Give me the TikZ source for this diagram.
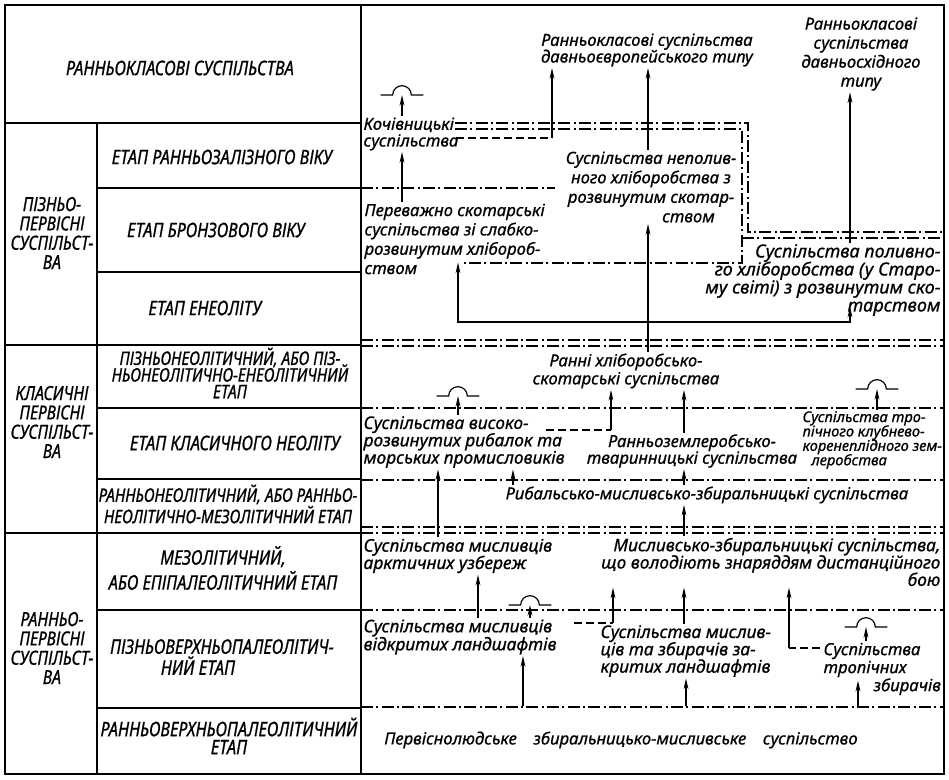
\documentclass[tikz,border=0pt]{standalone}
\usepackage{fontspec}
\setmainfont{Noto Sans}[FakeBold=0.8]
\newfontfamily\capfont{Noto Sans}[FakeStretch=0.82, FakeBold=0.8]
\usetikzlibrary{arrows.meta}
\lineskiplimit=-20pt

\begin{document}
\begin{tikzpicture}[x=0.75pt,y=-0.75pt,
	every node/.append style={execute at begin node={\lineskiplimit=-20pt}},
	stage/.style={font=\capfont\itshape\fontsize{15}{#1}\selectfont, align=center, inner sep=1pt},
	stage/.default=16,
	grp/.style={font=\capfont\itshape\fontsize{14.5}{14.5}\selectfont, align=center, inner sep=1pt},
	soc/.style={font=\itshape\fontsize{12.5}{#1}\selectfont, inner sep=1pt},
	soc/.default=14.5,
	socb/.style={font=\itshape\fontsize{13}{#1}\selectfont, inner sep=1pt},
	socb/.default=14.5,
	bnd/.style={line width=0.8pt, dash pattern=on 9pt off 2.5pt on 1.5pt off 2.5pt},
	arr/.style={line width=0.9pt, -{Stealth[length=8pt,width=3.6pt]}},
	dsh/.style={line width=0.9pt, dash pattern=on 6pt off 3pt}]
	\useasboundingbox (0,0) rectangle (949,779);
	\draw[line width=2.2pt] (5,5) rectangle (944,774);
	\draw[line width=1.8pt] (361,5) -- (361,774) (97,123) -- (97,774);
	\foreach \y in {123,345,533}
		\draw[line width=1.8pt] (5,\y) -- (361,\y);
	\foreach \y in {188,272,408,479,610,708}
		\draw[line width=1.1pt] (97,\y) -- (361,\y);
	\node[stage] (rks) at (180,68) {РАННЬОКЛАСОВІ СУСПІЛЬСТВА};
	\node[grp] (gLate) at (52,233) {ПІЗНЬО-\\ПЕРВІСНІ\\СУСПІЛЬСТ-\\ВА};
	\node[grp] (gClass) at (52,422) {КЛАСИЧНІ\\ПЕРВІСНІ\\СУСПІЛЬСТ-\\ВА};
	\node[grp] (gEarly) at (52,648) {РАННЬО-\\ПЕРВІСНІ\\СУСПІЛЬСТ-\\ВА};
	\node[stage] (s1) at (222,157) {ЕТАП РАННЬОЗАЛІЗНОГО ВІКУ};
	\node[stage] (s2) at (216,230) {ЕТАП БРОНЗОВОГО ВІКУ};
	\node[stage] (s3) at (205,308) {ЕТАП ЕНЕОЛІТУ};
	\node[stage, font=\capfont\itshape\fontsize{14}{12.5}\selectfont] (s4) at (230,373) {ПІЗНЬОНЕОЛІТИЧНИЙ, АБО ПІЗ-\\НЬОНЕОЛІТИЧНО-ЕНЕОЛІТИЧНИЙ\\ЕТАП};
	\node[stage] (s5) at (235,443) {ЕТАП КЛАСИЧНОГО НЕОЛІТУ};
	\node[stage, font=\capfont\itshape\fontsize{14}{16}\selectfont] (s6) at (228,504) {РАННЬОНЕОЛІТИЧНИЙ, АБО РАННЬО-\\НЕОЛІТИЧНО-МЕЗОЛІТИЧНИЙ ЕТАП};
	\node[stage=18.75] (s7) at (223,568) {МЕЗОЛІТИЧНИЙ,\\АБО ЕПІПАЛЕОЛІТИЧНИЙ ЕТАП};
	\node[stage=15.75] (s8) at (222,657) {ПІЗНЬОВЕРХНЬОПАЛЕОЛІТИЧ-\\НИЙ ЕТАП\hspace*{36pt}};
	\node[stage=13.5] (s9) at (229,736) {РАННЬОВЕРХНЬОПАЛЕОЛІТИЧНИЙ\\ЕТАП};
	\draw[bnd] (455,123) -- (748,123) -- (748,232) -- (944,232);
	\draw[bnd] (455,129) -- (742,129) -- (742,263) -- (463,263);
	\draw[bnd] (742,238) -- (944,238);
	\draw[bnd] (361,188) -- (555,188);
	\foreach \y in {340,346,408,480,527,533,610,707}
		\draw[bnd] (361,\y) -- (944,\y);
	\node[soc=12.5, align=center] (earlyEur) at (647,50) {Ранньокласові суспільства\\давньоєвропейського типу};
	\node[soc=14.25, align=center] (earlyEast) at (861,54) {Ранньокласові\\суспільства\\давньосхідного\\типу};
	\node[soc=12.5, align=left, anchor=west] (nomad) at (362,134) {Кочівницькі\\суспільства};
	\node[soc=14.5, align=left, anchor=west] (pastor) at (363,239) {Переважно скотарські\\суспільства зі слабко-\\розвинутим хлібороб-\\ством};
	\node[soc=14.6, align=center] (dryfarm) at (651,187) {Суспільства неполив-\\ного хліборобства з\\розвинутим скотар-\\\hspace*{4.5em}ством};
	\node[soc=13.5, align=center] (farmpast) at (626,371) {Ранні хліборобсько-\\скотарські суспільства};
	\node[align=right, anchor=east, inner sep=1pt, font=\itshape\fontsize{13.5}{13.5}\selectfont] (irrig) at (942,280) {Суспільства поливно-\\го хліборобства (у Старо-\\му світі) з розвинутим ско-\\тарством};
	\node[socb=13, align=left, anchor=west] (fisher) at (362,442) {Суспільства високо-\\розвинутих рибалок та\\морських промисловиків};
	\node[soc=12.5, align=center] (earlyagr) at (692,451) {Ранньоземлеробсько-\\тваринницькі суспільства};
	\node[align=left, anchor=west, inner sep=1pt, font=\itshape\fontsize{11}{10.8}\selectfont] (tuber) at (801,440) {Суспільства тро-\\пічного клубнево-\\коренеплідного зем-\\\hspace*{0.6em}леробства};
	\node[soc] (fishhunt) at (707,495) {Рибальсько-мисливсько-збиральницькі суспільства};
	\node[socb=13, align=left, anchor=west] (arctic) at (362,556) {Суспільства мисливців\\арктичних узбереж};
	\node[socb=13, align=right, anchor=east] (ranged) at (942,562) {Мисливсько-збиральницькі суспільства,\\що володіють знаряддям дистанційного\\бою};
	\node[socb=13, align=left, anchor=west] (closed) at (599,651) {Суспільства мислив-\\ців та збирачів за-\\критих ландшафтів};
	\node[socb=13.5, align=left, anchor=west] (open) at (362,637) {Суспільства мисливців\\відкритих ландшафтів};
	\node[soc=13.5, align=left, anchor=west] (tropic) at (822,669) {Суспільства\\тропічних\\\hspace*{3em}збирачів};
	\node[soc, minimum height=50pt] (primal) at (621,740) {Первіснолюдське\quad збиральницько-мисливське\quad суспільство};
	\coordinate (t1) at (402,95);
	\coordinate (t2) at (458,396);
	\coordinate (t3) at (877,389);
	\coordinate (t4) at (530,605);
	\coordinate (t5) at (866,627);
	\foreach \t in {t1,t2,t3,t4,t5}
		\draw[line width=0.9pt] ([xshift=-16pt]\t) -- ([xshift=-7pt]\t) arc[start angle=180, end angle=0, radius=7pt] -- ([xshift=16pt]\t);
	\draw[arr] (402,0 |- nomad.north) -- (t1);
	\draw[arr] (402,0 |- pastor.north) -- (402,0 |- nomad.south);
	\coordinate (c1) at (456,138);
	\coordinate (c2) at (552,138);
	\draw[dsh] (c1) -- (c2);
	\draw[arr] (c2) -- (c2 |- earlyEur.south);
	\draw[arr] (648,0 |- dryfarm.north) -- (648,0 |- earlyEur.south);
	\draw[arr] (850,0 |- irrig.north) -- (850,0 |- earlyEast.south);
	\coordinate (br) at (648,322);
	\draw[arr] (648,0 |- farmpast.north) -- (648,0 |- dryfarm.south);
	\draw[arr, shorten >=-10pt] (br) -| (458,0 |- pastor.south);
	\draw[arr, shorten >=-8pt] (br) -| (850,0 |- irrig.south);
	\draw[arr] (458,0 |- fisher.north) -- (t2);
	\coordinate (h1) at (546,430);
	\coordinate (h2) at (611,430);
	\draw[dsh] (h1) -- (h2);
	\draw[arr] (h2) -- (h2 |- farmpast.south);
	\draw[arr] (684,0 |- earlyagr.north) -- (684,0 |- farmpast.south);
	\draw[arr] (877,0 |- tuber.north) -- (t3);
	\draw[arr] (684,0 |- fishhunt.north) -- (684,0 |- earlyagr.south);
	\draw[arr] (513,0 |- fishhunt.north) -- (513,0 |- fisher.south);
	\draw[arr] (438,0 |- arctic.north) -- (438,0 |- fisher.south);
	\draw[arr] (684,0 |- ranged.north) -- (684,0 |- fishhunt.south);
	\draw[arr] (684,0 |- closed.north) -- (684,0 |- ranged.south);
	\draw[arr] (478,0 |- open.north) -- (478,0 |- arctic.south);
	\draw[arr] (530,0 |- open.north) -- (t4);
	\coordinate (o1) at (574,623);
	\coordinate (o2) at (613,623);
	\draw[dsh] (o1) -- (o2);
	\draw[arr] (o2) -- (o2 |- ranged.south);
	\coordinate (p1) at (820,648);
	\coordinate (p2) at (789,648);
	\draw[dsh] (p1) -- (p2);
	\draw[arr] (p2) -- (p2 |- ranged.south);
	\draw[arr] (866,0 |- tropic.north) -- (t5);
	\draw[arr] (523,0 |- primal.north) -- (523,0 |- open.south);
	\draw[arr] (686,0 |- primal.north) -- (686,0 |- closed.south);
	\draw[arr, shorten >=-12pt] (858,0 |- primal.north) -- (858,0 |- tropic.south);
\end{tikzpicture}
\end{document}
